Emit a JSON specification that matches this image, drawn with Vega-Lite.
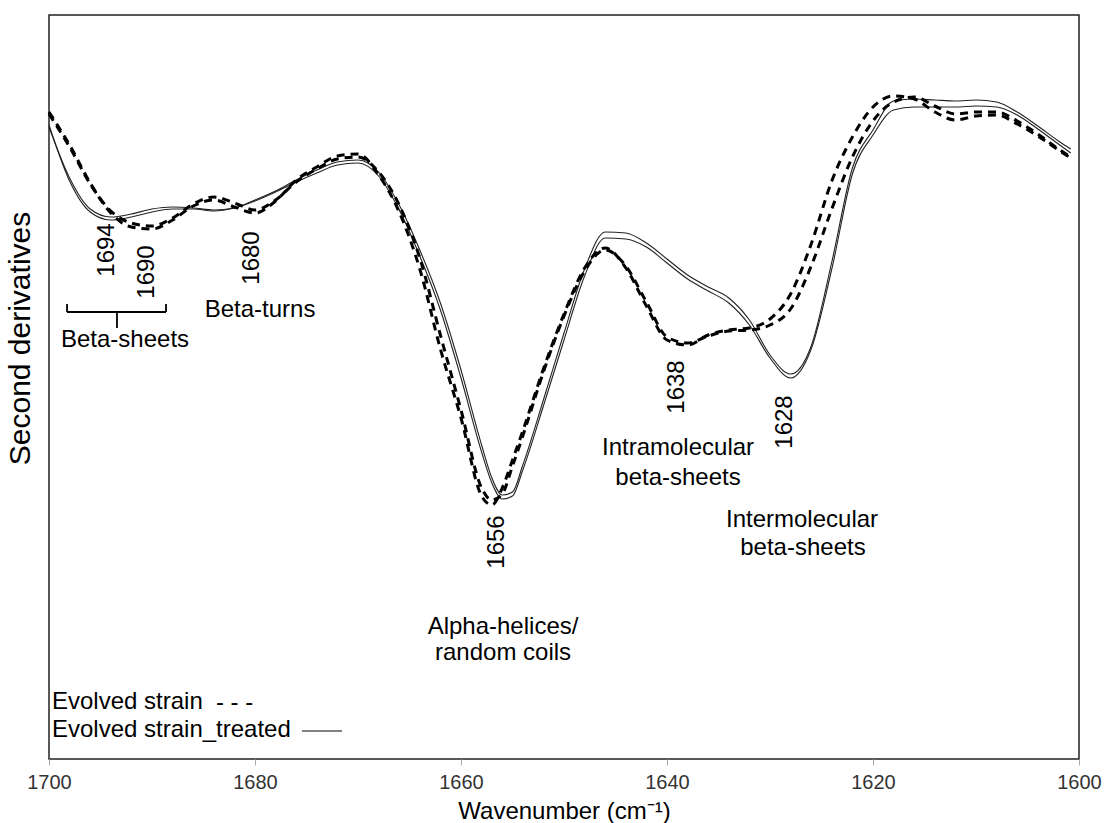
{
  "$schema": "https://vega.github.io/schema/vega-lite/v6.json",
  "width": 1030,
  "height": 744,
  "autosize": {"type": "none"},
  "padding": {"left": 49, "top": 15, "right": 36, "bottom": 64},
  "background": "white",
  "config": {
    "view": {"stroke": "#222", "strokeWidth": 1.5},
    "font": "Liberation Sans"
  },
  "datasets": {
    "spectra": [
      {"wn": 1700, "evolved_1": 6.47, "evolved_2": 6.45, "treated_1": 6.32, "treated_2": 6.34},
      {"wn": 1698, "evolved_1": 6.14, "evolved_2": 6.12, "treated_1": 5.81, "treated_2": 5.78},
      {"wn": 1696, "evolved_1": 5.76, "evolved_2": 5.75, "treated_1": 5.50, "treated_2": 5.47},
      {"wn": 1694, "evolved_1": 5.46, "evolved_2": 5.48, "treated_1": 5.42, "treated_2": 5.39},
      {"wn": 1692, "evolved_1": 5.32, "evolved_2": 5.36, "treated_1": 5.45, "treated_2": 5.42},
      {"wn": 1690, "evolved_1": 5.30, "evolved_2": 5.33, "treated_1": 5.50, "treated_2": 5.47},
      {"wn": 1688, "evolved_1": 5.39, "evolved_2": 5.41, "treated_1": 5.52, "treated_2": 5.50},
      {"wn": 1686, "evolved_1": 5.53, "evolved_2": 5.55, "treated_1": 5.51, "treated_2": 5.50},
      {"wn": 1684, "evolved_1": 5.59, "evolved_2": 5.62, "treated_1": 5.49, "treated_2": 5.48},
      {"wn": 1682, "evolved_1": 5.52, "evolved_2": 5.56, "treated_1": 5.51, "treated_2": 5.51},
      {"wn": 1680, "evolved_1": 5.46, "evolved_2": 5.49, "treated_1": 5.59, "treated_2": 5.58},
      {"wn": 1678, "evolved_1": 5.58, "evolved_2": 5.59, "treated_1": 5.68, "treated_2": 5.67},
      {"wn": 1676, "evolved_1": 5.79, "evolved_2": 5.77, "treated_1": 5.79, "treated_2": 5.77},
      {"wn": 1674, "evolved_1": 5.92, "evolved_2": 5.90, "treated_1": 5.89, "treated_2": 5.86},
      {"wn": 1672, "evolved_1": 6.03, "evolved_2": 6.00, "treated_1": 5.97, "treated_2": 5.94},
      {"wn": 1670, "evolved_1": 6.05, "evolved_2": 6.02, "treated_1": 5.99, "treated_2": 5.96},
      {"wn": 1668, "evolved_1": 5.84, "evolved_2": 5.87, "treated_1": 5.87, "treated_2": 5.83},
      {"wn": 1666, "evolved_1": 5.47, "evolved_2": 5.54, "treated_1": 5.54, "treated_2": 5.49},
      {"wn": 1664, "evolved_1": 4.90, "evolved_2": 5.01, "treated_1": 5.09, "treated_2": 5.03},
      {"wn": 1662, "evolved_1": 4.10, "evolved_2": 4.24, "treated_1": 4.56, "treated_2": 4.49},
      {"wn": 1660, "evolved_1": 3.41, "evolved_2": 3.49, "treated_1": 3.89, "treated_2": 3.81},
      {"wn": 1658, "evolved_1": 2.63, "evolved_2": 2.71, "treated_1": 3.14, "treated_2": 3.07},
      {"wn": 1657, "evolved_1": 2.54, "evolved_2": 2.59, "treated_1": 2.81, "treated_2": 2.76},
      {"wn": 1656, "evolved_1": 2.71, "evolved_2": 2.65, "treated_1": 2.64, "treated_2": 2.60},
      {"wn": 1655, "evolved_1": 2.99, "evolved_2": 2.93, "treated_1": 2.67, "treated_2": 2.63},
      {"wn": 1654, "evolved_1": 3.28, "evolved_2": 3.23, "treated_1": 2.94, "treated_2": 2.89},
      {"wn": 1652, "evolved_1": 3.90, "evolved_2": 3.87, "treated_1": 3.59, "treated_2": 3.53},
      {"wn": 1650, "evolved_1": 4.45, "evolved_2": 4.43, "treated_1": 4.26, "treated_2": 4.19},
      {"wn": 1648, "evolved_1": 4.91, "evolved_2": 4.88, "treated_1": 4.90, "treated_2": 4.83},
      {"wn": 1646, "evolved_1": 5.11, "evolved_2": 5.09, "treated_1": 5.27, "treated_2": 5.21},
      {"wn": 1644, "evolved_1": 4.91, "evolved_2": 4.93, "treated_1": 5.26, "treated_2": 5.20},
      {"wn": 1642, "evolved_1": 4.53, "evolved_2": 4.57, "treated_1": 5.16, "treated_2": 5.12},
      {"wn": 1640, "evolved_1": 4.19, "evolved_2": 4.22, "treated_1": 5.00, "treated_2": 4.96},
      {"wn": 1638, "evolved_1": 4.14, "evolved_2": 4.16, "treated_1": 4.84, "treated_2": 4.80},
      {"wn": 1636, "evolved_1": 4.24, "evolved_2": 4.23, "treated_1": 4.72, "treated_2": 4.68},
      {"wn": 1634, "evolved_1": 4.29, "evolved_2": 4.28, "treated_1": 4.61, "treated_2": 4.56},
      {"wn": 1632, "evolved_1": 4.31, "evolved_2": 4.29, "treated_1": 4.39, "treated_2": 4.34},
      {"wn": 1630, "evolved_1": 4.40, "evolved_2": 4.34, "treated_1": 4.04, "treated_2": 4.01},
      {"wn": 1628, "evolved_1": 4.65, "evolved_2": 4.50, "treated_1": 3.85, "treated_2": 3.81},
      {"wn": 1626, "evolved_1": 5.15, "evolved_2": 4.93, "treated_1": 4.13, "treated_2": 4.10},
      {"wn": 1624, "evolved_1": 5.78, "evolved_2": 5.50, "treated_1": 4.97, "treated_2": 4.90},
      {"wn": 1622, "evolved_1": 6.22, "evolved_2": 6.02, "treated_1": 5.91, "treated_2": 5.85},
      {"wn": 1620, "evolved_1": 6.52, "evolved_2": 6.38, "treated_1": 6.29, "treated_2": 6.24},
      {"wn": 1618, "evolved_1": 6.63, "evolved_2": 6.57, "treated_1": 6.58, "treated_2": 6.49},
      {"wn": 1616, "evolved_1": 6.60, "evolved_2": 6.62, "treated_1": 6.60, "treated_2": 6.52},
      {"wn": 1614, "evolved_1": 6.47, "evolved_2": 6.53, "treated_1": 6.59, "treated_2": 6.52},
      {"wn": 1612, "evolved_1": 6.39, "evolved_2": 6.45, "treated_1": 6.58, "treated_2": 6.52},
      {"wn": 1610, "evolved_1": 6.43, "evolved_2": 6.47, "treated_1": 6.59, "treated_2": 6.53},
      {"wn": 1608, "evolved_1": 6.44, "evolved_2": 6.47, "treated_1": 6.57, "treated_2": 6.52},
      {"wn": 1606, "evolved_1": 6.35, "evolved_2": 6.38, "treated_1": 6.47, "treated_2": 6.44},
      {"wn": 1604, "evolved_1": 6.23, "evolved_2": 6.25, "treated_1": 6.33, "treated_2": 6.30},
      {"wn": 1602, "evolved_1": 6.09, "evolved_2": 6.10, "treated_1": 6.18, "treated_2": 6.15},
      {"wn": 1600.8, "evolved_1": 6.01, "evolved_2": 6.02, "treated_1": 6.10, "treated_2": 6.06}
    ],
    "bands": [
      {"wn": 1694.37, "d2": 5.09, "label": "1694"},
      {"wn": 1690.49, "d2": 4.87, "label": "1690"},
      {"wn": 1680.29, "d2": 5.01, "label": "1680"},
      {"wn": 1656.5, "d2": 2.17, "label": "1656"},
      {"wn": 1639.03, "d2": 3.72, "label": "1638"},
      {"wn": 1628.54, "d2": 3.37, "label": "1628"}
    ],
    "assignments": [
      {"wn": 1692.62, "d2": 4.19, "label": "Beta-sheets"},
      {"wn": 1679.51, "d2": 4.49, "label": "Beta-turns"},
      {"wn": 1655.92, "d2": 1.32, "label": "Alpha-helices/"},
      {"wn": 1655.92, "d2": 1.06, "label": "random coils"},
      {"wn": 1638.93, "d2": 3.11, "label": "Intramolecular"},
      {"wn": 1638.93, "d2": 2.81, "label": "beta-sheets"},
      {"wn": 1626.89, "d2": 2.39, "label": "Intermolecular"},
      {"wn": 1626.8, "d2": 2.11, "label": "beta-sheets"}
    ],
    "key": [
      {"wn": 1699.71, "d2": 0.57, "label": "Evolved strain"},
      {"wn": 1683.79, "d2": 0.56, "label": "- - -"},
      {"wn": 1699.71, "d2": 0.29, "label": "Evolved strain_treated"}
    ],
    "strokes": [
      {"x1": 1698.25, "x2": 1688.64, "y1": 4.47, "y2": 4.47},
      {"x1": 1698.25, "x2": 1698.25, "y1": 4.47, "y2": 4.55},
      {"x1": 1688.64, "x2": 1688.64, "y1": 4.47, "y2": 4.55},
      {"x1": 1693.4, "x2": 1693.4, "y1": 4.47, "y2": 4.31}
    ],
    "keyline": [
      {"x1": 1675.44, "x2": 1671.55, "y1": 0.28, "y2": 0.28}
    ]
  },
  "layer": [
    {
      "data": {"name": "spectra"},
      "transform": [{"fold": ["treated_1", "treated_2"], "as": ["curve", "d2"]}],
      "mark": {"type": "line", "interpolate": "monotone", "color": "#222222", "strokeWidth": 1.1},
      "encoding": {
        "x": {
          "field": "wn",
          "type": "quantitative",
          "scale": {"domain": [1600, 1700], "reverse": true, "nice": false, "zero": false},
          "axis": {
            "values": [1700, 1680, 1660, 1640, 1620, 1600],
            "format": "d",
            "title": "Wavenumber (cm⁻¹)",
            "domain": false,
            "grid": false,
            "tickSize": 6,
            "tickColor": "#aaaaaa",
            "tickWidth": 1,
            "labelFont": "Liberation Sans",
            "labelFontSize": 20,
            "labelColor": "#333333",
            "labelPadding": 7.5,
            "labelDx": 11,
            "labelFlush": false,
            "titleFont": "Liberation Sans",
            "titleFontSize": 24,
            "titleFontWeight": "normal",
            "titleColor": "#000000",
            "titlePadding": 7
          }
        },
        "y": {
          "field": "d2",
          "type": "quantitative",
          "scale": {"domain": [0, 7.44], "nice": false, "zero": false},
          "axis": {
            "title": "Second derivatives",
            "domain": false,
            "ticks": false,
            "labels": false,
            "grid": false,
            "titleFont": "Liberation Sans",
            "titleFontSize": 30,
            "titleFontWeight": "normal",
            "titleColor": "#000000",
            "titleAngle": 270,
            "titleAlign": "center",
            "titleBaseline": "middle",
            "titleX": -29,
            "titleY": 323
          }
        },
        "detail": {"field": "curve"}
      }
    },
    {
      "data": {"name": "spectra"},
      "transform": [{"fold": ["evolved_1", "evolved_2"], "as": ["curve", "d2"]}],
      "mark": {"type": "line", "interpolate": "monotone", "color": "#000000", "strokeWidth": 3, "strokeDash": [8, 6]},
      "encoding": {
        "x": {"field": "wn", "type": "quantitative"},
        "y": {"field": "d2", "type": "quantitative"},
        "detail": {"field": "curve"}
      }
    },
    {
      "data": {"name": "strokes"},
      "mark": {"type": "rule", "color": "#000000", "strokeWidth": 1.8},
      "encoding": {
        "x": {"field": "x1", "type": "quantitative"},
        "x2": {"field": "x2"},
        "y": {"field": "y1", "type": "quantitative"},
        "y2": {"field": "y2"}
      }
    },
    {
      "data": {"name": "keyline"},
      "mark": {"type": "rule", "color": "#000000", "strokeWidth": 1},
      "encoding": {
        "x": {"field": "x1", "type": "quantitative"},
        "x2": {"field": "x2"},
        "y": {"field": "y1", "type": "quantitative"},
        "y2": {"field": "y2"}
      }
    },
    {
      "data": {"name": "bands"},
      "mark": {"type": "text", "angle": 270, "align": "center", "baseline": "middle", "font": "Liberation Sans", "fontSize": 24, "color": "#000000"},
      "encoding": {
        "x": {"field": "wn", "type": "quantitative"},
        "y": {"field": "d2", "type": "quantitative"},
        "text": {"field": "label"}
      }
    },
    {
      "data": {"name": "assignments"},
      "mark": {"type": "text", "align": "center", "baseline": "middle", "font": "Liberation Sans", "fontSize": 24, "color": "#000000"},
      "encoding": {
        "x": {"field": "wn", "type": "quantitative"},
        "y": {"field": "d2", "type": "quantitative"},
        "text": {"field": "label"}
      }
    },
    {
      "data": {"name": "key"},
      "mark": {"type": "text", "align": "left", "baseline": "middle", "font": "Liberation Sans", "fontSize": 24, "color": "#000000"},
      "encoding": {
        "x": {"field": "wn", "type": "quantitative"},
        "y": {"field": "d2", "type": "quantitative"},
        "text": {"field": "label"}
      }
    }
  ]
}
